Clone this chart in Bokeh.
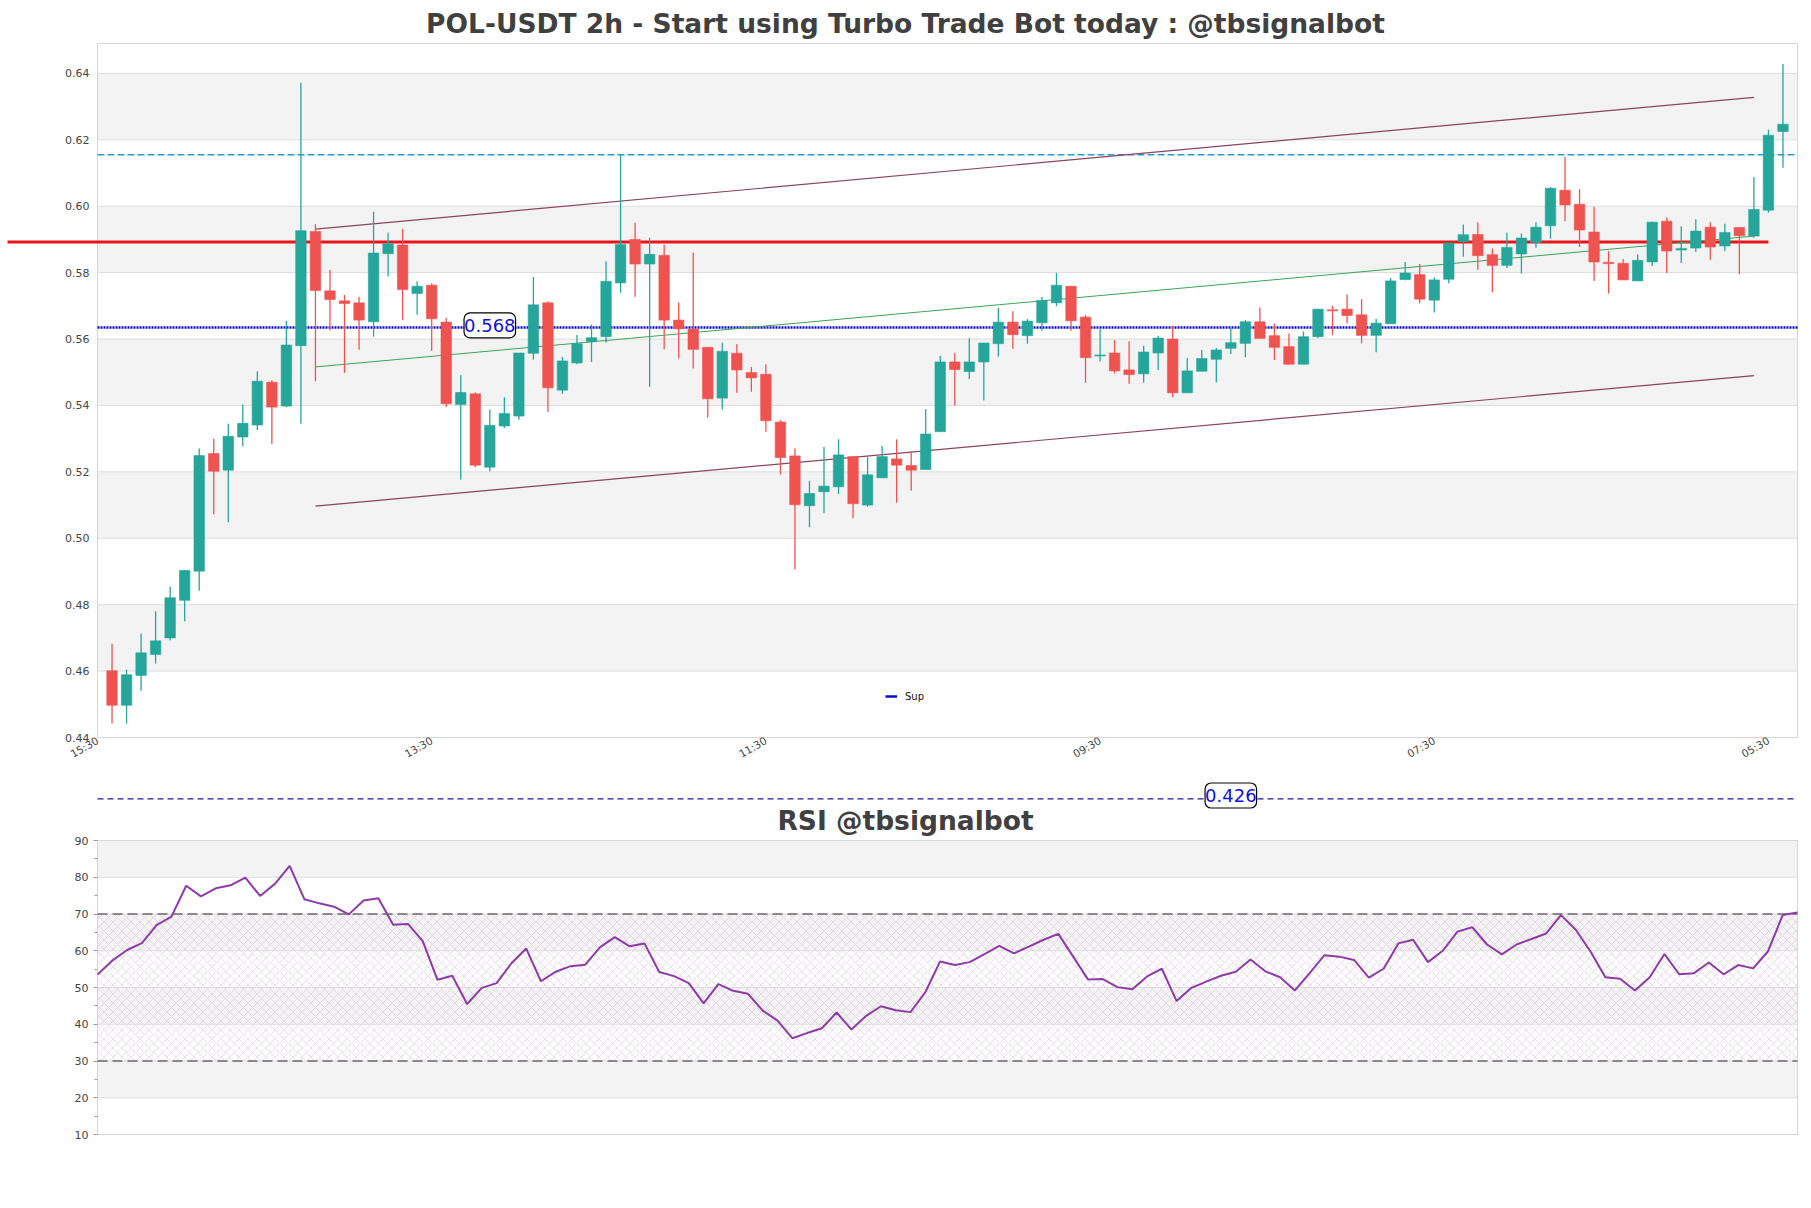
import numpy as np
from bokeh.plotting import figure
from bokeh.models import (Range1d, FixedTicker, Legend, LegendItem,
                          ColumnDataSource, PrintfTickFormatter)
from bokeh.layouts import column
from bokeh.core.properties import value
from bokeh.embed import file_html
from bokeh.resources import INLINE

# ---------------- data ----------------
opens = [0.4601, 0.4497, 0.4587, 0.4650, 0.4700, 0.4813, 0.4901, 0.5255, 0.5205, 0.5305,
         0.5341, 0.5470, 0.5398, 0.5580, 0.5924, 0.5745, 0.5715, 0.5709, 0.5652, 0.5857,
         0.5883, 0.5737, 0.5762, 0.5651, 0.5403, 0.5435, 0.5214, 0.5338, 0.5368, 0.5557,
         0.5709, 0.5446, 0.5528, 0.5592, 0.5607, 0.5769, 0.5900, 0.5826, 0.5852, 0.5657,
         0.5630, 0.5575, 0.5422, 0.5557, 0.5499, 0.5494, 0.5350, 0.5248, 0.5098, 0.5140,
         0.5155, 0.5246, 0.5100, 0.5182, 0.5239, 0.5219, 0.5207, 0.5321, 0.5531, 0.5502,
         0.5531, 0.5586, 0.5651, 0.5610, 0.5649, 0.5709, 0.5759, 0.5666, 0.5549, 0.5558,
         0.5507, 0.5495, 0.5558, 0.5600, 0.5438, 0.5503, 0.5539, 0.5572, 0.5587, 0.5652,
         0.5610, 0.5577, 0.5524, 0.5607, 0.5688, 0.5690, 0.5673, 0.5611, 0.5646, 0.5779,
         0.5794, 0.5717, 0.5780, 0.5894, 0.5915, 0.5854, 0.5822, 0.5856, 0.5891, 0.5941,
         0.6048, 0.6006, 0.5922, 0.5831, 0.5828, 0.5775, 0.5832, 0.5955, 0.5868, 0.5874,
         0.5937, 0.5880, 0.5936, 0.5910, 0.5988, 0.6225]
highs = [0.4682, 0.4604, 0.4713, 0.4780, 0.4854, 0.4905, 0.5270, 0.5300, 0.5345, 0.5403,
         0.5503, 0.5476, 0.5654, 0.6372, 0.5946, 0.5808, 0.5733, 0.5727, 0.5983, 0.5920,
         0.5931, 0.5774, 0.5768, 0.5664, 0.5491, 0.5439, 0.5388, 0.5425, 0.5558, 0.5787,
         0.5714, 0.5546, 0.5612, 0.5644, 0.5834, 0.6155, 0.5950, 0.5905, 0.5884, 0.5710,
         0.5860, 0.5575, 0.5589, 0.5584, 0.5516, 0.5524, 0.5356, 0.5271, 0.5173, 0.5275,
         0.5298, 0.5246, 0.5246, 0.5278, 0.5298, 0.5261, 0.5389, 0.5550, 0.5558, 0.5602,
         0.5588, 0.5694, 0.5684, 0.5660, 0.5727, 0.5799, 0.5759, 0.5672, 0.5632, 0.5597,
         0.5593, 0.5580, 0.5610, 0.5640, 0.5543, 0.5567, 0.5573, 0.5633, 0.5657, 0.5695,
         0.5647, 0.5617, 0.5623, 0.5690, 0.5700, 0.5734, 0.5720, 0.5660, 0.5784, 0.5832,
         0.5826, 0.5786, 0.5889, 0.5945, 0.5951, 0.5873, 0.5920, 0.5918, 0.5952, 0.6058,
         0.6149, 0.6051, 0.5998, 0.5864, 0.5841, 0.5855, 0.5954, 0.5966, 0.5940, 0.5961,
         0.5952, 0.5947, 0.5936, 0.6088, 0.6231, 0.6428]
lows = [0.4442, 0.4442, 0.4541, 0.4623, 0.4692, 0.4750, 0.4842, 0.5072, 0.5048, 0.5277,
        0.5326, 0.5284, 0.5395, 0.5345, 0.5473, 0.5626, 0.5498, 0.5568, 0.5607, 0.5788,
        0.5658, 0.5673, 0.5564, 0.5395, 0.5176, 0.5214, 0.5202, 0.5332, 0.5357, 0.5538,
        0.5380, 0.5435, 0.5524, 0.5531, 0.5589, 0.5739, 0.5727, 0.5456, 0.5569, 0.5541,
        0.5511, 0.5364, 0.5388, 0.5438, 0.5441, 0.5321, 0.5192, 0.4907, 0.5033, 0.5075,
        0.5133, 0.5060, 0.5095, 0.5182, 0.5107, 0.5143, 0.5207, 0.5321, 0.5400, 0.5480,
        0.5415, 0.5547, 0.5571, 0.5586, 0.5625, 0.5699, 0.5625, 0.5468, 0.5532, 0.5496,
        0.5465, 0.5468, 0.5507, 0.5425, 0.5438, 0.5503, 0.5469, 0.5555, 0.5545, 0.5602,
        0.5537, 0.5524, 0.5524, 0.5603, 0.5612, 0.5647, 0.5587, 0.5560, 0.5646, 0.5777,
        0.5708, 0.5680, 0.5768, 0.5848, 0.5809, 0.5741, 0.5814, 0.5797, 0.5875, 0.5902,
        0.5955, 0.5877, 0.5775, 0.5737, 0.5778, 0.5775, 0.5820, 0.5799, 0.5829, 0.5862,
        0.5839, 0.5865, 0.5795, 0.5905, 0.5980, 0.6116]
closes = [0.4497, 0.4589, 0.4655, 0.4691, 0.4821, 0.4903, 0.5249, 0.5202, 0.5307, 0.5346,
          0.5473, 0.5395, 0.5582, 0.5926, 0.5746, 0.5719, 0.5707, 0.5657, 0.5859, 0.5887,
          0.5749, 0.5759, 0.5661, 0.5405, 0.5439, 0.5220, 0.5340, 0.5376, 0.5558, 0.5703,
          0.5453, 0.5534, 0.5586, 0.5604, 0.5774, 0.5885, 0.5826, 0.5855, 0.5657, 0.5631,
          0.5569, 0.5420, 0.5563, 0.5507, 0.5483, 0.5354, 0.5243, 0.5101, 0.5135, 0.5157,
          0.5251, 0.5104, 0.5191, 0.5246, 0.5220, 0.5205, 0.5314, 0.5531, 0.5508, 0.5531,
          0.5588, 0.5651, 0.5613, 0.5654, 0.5716, 0.5762, 0.5655, 0.5544, 0.5552, 0.5504,
          0.5493, 0.5561, 0.5603, 0.5438, 0.5504, 0.5541, 0.5567, 0.5589, 0.5652, 0.5602,
          0.5575, 0.5524, 0.5607, 0.5690, 0.5685, 0.5671, 0.5611, 0.5648, 0.5775, 0.5799,
          0.5720, 0.5778, 0.5889, 0.5914, 0.5851, 0.5822, 0.5876, 0.5904, 0.5937, 0.6054,
          0.6004, 0.5928, 0.5832, 0.5827, 0.5778, 0.5837, 0.5952, 0.5865, 0.5873, 0.5925,
          0.5877, 0.5921, 0.5911, 0.5990, 0.6214, 0.6247]
rsi = [53.5, 57.3, 60.2, 62.1, 67.0, 69.3, 77.7, 74.8, 77.0, 77.8,
       79.9, 74.9, 78.2, 83.1, 74.0, 72.9, 72.0, 69.9, 73.7, 74.3,
       67.1, 67.3, 62.6, 52.1, 53.2, 45.5, 49.9, 51.2, 56.6, 60.6,
       51.7, 54.3, 55.8, 56.2, 61.0, 63.7, 61.2, 62.0, 54.2, 53.1,
       51.2, 45.7, 50.9, 49.1, 48.3, 43.7, 41.0, 36.2, 37.6, 38.9,
       43.2, 38.6, 42.3, 44.9, 43.8, 43.3, 48.7, 57.1, 56.1, 56.9,
       59.1, 61.3, 59.3, 61.1, 63.0, 64.6, 58.4, 52.2, 52.3, 50.1,
       49.5, 53.0, 55.1, 46.3, 49.9, 51.6, 53.2, 54.3, 57.6, 54.4,
       52.8, 49.2, 53.9, 58.8, 58.4, 57.5, 52.7, 55.1, 62.0, 63.0,
       56.9, 60.0, 65.2, 66.4, 61.7, 59.0, 61.7, 63.2, 64.7, 69.7,
       65.7, 59.8, 52.8, 52.4, 49.2, 52.8, 59.1, 53.6, 53.9, 56.8,
       53.6, 56.1, 55.2, 59.8, 69.7, 70.4]

tick_labels = ["15:30", "13:30", "11:30", "09:30", "07:30", "05:30"]
tick_first = -1
tick_step = 23
price_ticks = [0.44, 0.46, 0.48, 0.50, 0.52, 0.54, 0.56, 0.58, 0.60, 0.62, 0.64]
rsi_ticks = [10, 20, 30, 40, 50, 60, 70, 80, 90]
rsi_minor = [15, 25, 35, 45, 55, 65, 75, 85]
rsi_levels = [30, 70]
rsi_zone = [30, 70]

title_text = "POL-USDT 2h - Start using Turbo Trade Bot today : @tbsignalbot"
rsi_title = "RSI @tbsignalbot"

red_level = 0.5892
red_end = 114
sup_level = 0.5635
res_level = 0.6155
sup_label = "0.568"
sup_label_x = 26
low_label = "0.426"
low_label_x = 77

chan_x = [14, 113]
chan_upper = [0.5931, 0.6328]
chan_mid = [0.5516, 0.5910]
chan_lower = [0.5097, 0.5490]

# ---------------- style / layout ----------------
FONT = "DejaVu Sans"
GREEN = "#26a69a"
RED = "#ef5350"
BAND = "#f3f3f3"
GRID = "#dcdcdc"
OUTLINE = "#d6d6d6"
LEFT, FW, PAD_R = 97, 1700, 3        # axes box: page x 97 .. 1797
FRAME_W = LEFT + FW + PAD_R          # every frame starts at the page's left edge
TITLE_SIZE = "26.5px"

n = len(opens)
X_START, X_END = -1, n
UNIT = FW / (X_END - X_START)
XR = Range1d(X_START - LEFT / UNIT, X_END + PAD_R / UNIT)
RED_START = X_START - 90 / UNIT
X_TITLE = X_START + (905 - LEFT) / UNIT

price_lo, price_hi = 0.44, 0.649
MAIN_H = 694
PPX = MAIN_H / (price_hi - price_lo)
PAD_B, PAD_T = 6, 2

RU = FW / (n - 1)
RSI_H = 294
RPX = RSI_H / (rsi_ticks[-1] - rsi_ticks[0])
RPAD_T, RPAD_B = 4, 7


def base(h, xr, yr, bottom=0):
    f = figure(frame_width=FRAME_W, frame_height=h, min_border_left=0, min_border_right=8,
               min_border_top=0, min_border_bottom=bottom, x_range=xr, y_range=yr,
               toolbar_location=None, output_backend="svg")
    f.grid.visible = False
    f.outline_line_color = None
    return f


# ---------- title strip ----------
p0 = base(41, XR, Range1d(0, 41))
p0.xaxis.visible = False
p0.yaxis.visible = False
p0.text(x=[X_TITLE], y=[18], text=[title_text], text_font=value(FONT),
        text_font_style="bold", text_font_size=TITLE_SIZE, text_color="#404040",
        text_align="center", text_baseline="middle")

# ---------- main chart ----------
p = base(MAIN_H + PAD_B + PAD_T, XR,
         Range1d(price_lo - PAD_B / PPX, price_hi + PAD_T / PPX), bottom=37)

bands_b = [price_ticks[i] for i in range(1, len(price_ticks) - 1, 2)]
bands_t = [price_ticks[i + 1] for i in range(1, len(price_ticks) - 1, 2)]
p.quad(left=X_START, right=X_END, bottom=bands_b, top=bands_t, fill_color=BAND,
       line_color=None, level="image")
p.segment(x0=X_START, y0=price_ticks, x1=X_END, y1=price_ticks, line_color=GRID,
          line_width=1, level="image")
p.quad(left=[X_START], right=[X_END], bottom=[price_lo], top=[price_hi], fill_color=None,
       line_color=OUTLINE, line_width=1, level="image")

xt = [tick_first + i * tick_step for i in range(len(tick_labels))]
p.xaxis.ticker = FixedTicker(ticks=xt)
p.xaxis.major_label_overrides = {t: l for t, l in zip(xt, tick_labels)}
p.xaxis.major_label_orientation = np.pi / 6
p.xaxis.axis_line_color = None
p.xaxis.major_tick_line_color = None
p.xaxis.minor_tick_line_color = None
p.xaxis.major_tick_out = 0
p.xaxis.major_tick_in = 0
p.xaxis.major_label_text_font = FONT
p.xaxis.major_label_text_font_size = "10.5px"
p.xaxis.major_label_text_color = "#444444"
p.xaxis.major_label_standoff = 2 - PAD_B

p.yaxis.fixed_location = X_START
p.yaxis.ticker = FixedTicker(ticks=price_ticks)
p.yaxis.formatter = PrintfTickFormatter(format="%.2f")
p.yaxis.axis_line_color = None
p.yaxis.major_tick_line_color = None
p.yaxis.minor_tick_line_color = None
p.yaxis.major_tick_out = 0
p.yaxis.major_tick_in = 0
p.yaxis.major_label_text_font = FONT
p.yaxis.major_label_text_font_size = "11px"
p.yaxis.major_label_text_color = "#444444"
p.yaxis.major_label_standoff = 8

# level lines
p.line(x=[X_START, X_END], y=[res_level, res_level], line_color="#2b9bd4",
       line_width=1.3, line_dash="7 3")
p.line(x=[X_START, X_END], y=[sup_level, sup_level], line_color="#0a0acc",
       line_width=2.5, line_dash="2 1")
p.line(x=[RED_START, red_end], y=[red_level, red_level], line_color="#e8161b", line_width=3)

# channel
p.line(x=chan_x, y=chan_upper, line_color="#8a4460", line_width=1.2)
p.line(x=chan_x, y=chan_lower, line_color="#8a4460", line_width=1.2)
p.line(x=chan_x, y=chan_mid, line_color="#3aa655", line_width=1.0)

# candles
o = np.array(opens); h = np.array(highs); l = np.array(lows); c = np.array(closes)
inc = c >= o
src = ColumnDataSource(dict(x=np.arange(n), top=np.maximum(o, c), bottom=np.minimum(o, c),
                            high=h, low=l, color=np.where(inc, GREEN, RED)))
p.segment(x0="x", y0="high", x1="x", y1="low", line_color="color", line_width=1.3, source=src)
p.vbar(x="x", width=0.72, top="top", bottom="bottom", fill_color="color", line_color="color",
       line_width=0.6, source=src)

# sup label
p.text(x=[sup_label_x], y=[sup_level], text=[sup_label], text_font=value(FONT),
       text_font_size="18px", text_color="#1010dd", text_align="center",
       text_baseline="middle", y_offset=-2, background_fill_color="white",
       border_line_color="black", border_line_width=1.2, border_radius=6, padding=(0, 6))

# legend (proxy renderer with a solid line glyph)
proxy = p.line(x=[np.nan, np.nan], y=[np.nan, np.nan], line_color="#0a0acc", line_width=2.5)
leg = Legend(items=[LegendItem(label="Sup", renderers=[proxy])],
             location=(885, 35.5 + PAD_B),
             orientation="vertical", glyph_width=12, glyph_height=10, label_standoff=8,
             label_text_font=FONT, label_text_font_size="10px", label_text_color="#111111",
             padding=0, margin=0, spacing=0, background_fill_alpha=0, border_line_alpha=0)
p.add_layout(leg)

# ---------- middle strip: 0.426 line + RSI title ----------
p2 = base(56, XR, Range1d(0, 56))
p2.xaxis.visible = False
p2.yaxis.visible = False
p2.line(x=[X_START, X_END], y=[37.7, 37.7], line_color="#1a1aa0", line_width=1.2,
        line_dash="6 4")
p2.text(x=[low_label_x], y=[41], text=[low_label], text_font=value(FONT),
        text_font_size="18px", text_color="#1010dd", text_align="center",
        text_baseline="middle", background_fill_color="white", border_line_color="black",
        border_line_width=1.2, border_radius=6, padding=(0, 6))
p2.text(x=[X_TITLE], y=[16.5], text=[rsi_title], text_font=value(FONT),
        text_font_style="bold", text_font_size=TITLE_SIZE, text_color="#404040",
        text_align="center", text_baseline="middle")

# ---------- RSI ----------
p3 = base(RSI_H + RPAD_T + RPAD_B, Range1d(0 - LEFT / RU, n - 1 + PAD_R / RU),
          Range1d(rsi_ticks[0] - RPAD_B / RPX, rsi_ticks[-1] + RPAD_T / RPX), bottom=10)
p3.xaxis.visible = False
rb = [rsi_ticks[i] for i in range(1, len(rsi_ticks) - 1, 2)]
rt = [rsi_ticks[i + 1] for i in range(1, len(rsi_ticks) - 1, 2)]
p3.quad(left=0, right=n - 1, bottom=rb, top=rt, fill_color=BAND, line_color=None, level="image")
p3.quad(left=[0], right=[n - 1], bottom=[rsi_zone[0]], top=[rsi_zone[1]], fill_color=None,
        line_color=None, hatch_pattern="x", hatch_color="#cdb6cf", hatch_alpha=0.75,
        hatch_scale=9, hatch_weight=0.6, level="image")
p3.segment(x0=0, y0=rsi_ticks, x1=n - 1, y1=rsi_ticks, line_color=GRID, line_width=1,
           level="image")
p3.quad(left=[0], right=[n - 1], bottom=[rsi_ticks[0]], top=[rsi_ticks[-1]], fill_color=None,
        line_color=OUTLINE, line_width=1, level="image")
p3.segment(x0=0, y0=rsi_levels, x1=n - 1, y1=rsi_levels, line_color="#2a2a2a",
           line_width=1.2, line_dash="10 5")
p3.line(x=np.arange(n), y=rsi, line_color="#8e3ba6", line_width=2)

p3.yaxis.fixed_location = 0
p3.yaxis.ticker = FixedTicker(ticks=rsi_ticks, minor_ticks=rsi_minor)
p3.yaxis.axis_line_color = None
p3.yaxis.major_tick_line_color = "#999999"
p3.yaxis.major_tick_out = 4
p3.yaxis.major_tick_in = 0
p3.yaxis.minor_tick_line_color = "#999999"
p3.yaxis.minor_tick_out = 3
p3.yaxis.minor_tick_in = 0
p3.yaxis.major_label_text_font = FONT
p3.yaxis.major_label_text_font_size = "11px"
p3.yaxis.major_label_text_color = "#444444"
p3.yaxis.major_label_standoff = 5

layout = column(p0, p, p2, p3, spacing=0)
open("out.html", "w").write(file_html(layout, INLINE))
